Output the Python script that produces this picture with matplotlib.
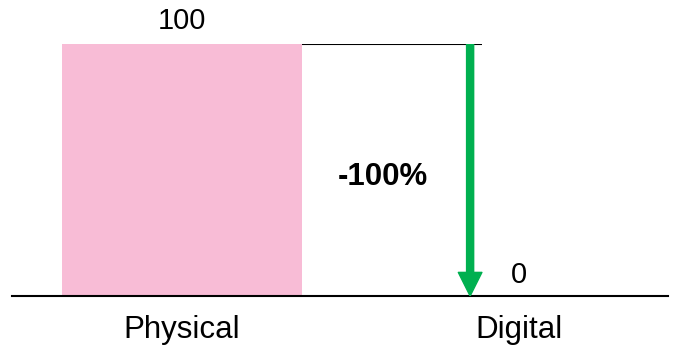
import matplotlib
matplotlib.use("Agg")
import matplotlib.pyplot as plt
from matplotlib.patches import FancyArrowPatch

plt.rcParams['font.family'] = ['Liberation Sans', 'DejaVu Sans']

categories = ["Physical", "Digital"]
values = [100, 0]
change_label = "-100%"

fig = plt.figure(figsize=(6.82, 3.47), dpi=100)
ax = fig.add_axes([12/682, 51/347, 656/682, 252/347])
x = list(range(len(categories)))
bw = 0.712
ax.bar(x[0], values[0], width=bw, color="#F8BCD6", zorder=1)
ax.set_xlim(-0.504, 1.442)
ax.set_ylim(0, 100)
for s in ["top", "right", "left"]:
    ax.spines[s].set_visible(False)
ax.spines["bottom"].set_linewidth(1.5)
ax.set_yticks([])
ax.set_xticks(x)
ax.set_xticklabels([])
ax.tick_params(axis='x', length=0)

# category labels
for xi, cat in zip(x, categories):
    ax.text(xi, -0.1667, cat, transform=ax.get_xaxis_transform(), ha="center",
            va="baseline", fontsize=22.5, clip_on=False)

# value labels
ax.text(x[0], values[0] + 6, f"{values[0]}", ha="center", va="baseline", fontsize=21, clip_on=False)
ax.text(x[1], values[1] + 5.2, f"{values[1]}", ha="center", va="baseline", fontsize=21)

# connector line
ax.plot([x[0] + bw/2, 0.89], [values[0], values[0]], color="black", lw=1.5, solid_capstyle="butt")

# arrow
ax_x = 0.855
arr = FancyArrowPatch((ax_x, values[0]), (ax_x, values[1]),
                      arrowstyle="simple,head_length=1,head_width=1,tail_width=0.3",
                      mutation_scale=17, color="#00B050", shrinkA=0, shrinkB=0, zorder=3)
ax.add_patch(arr)

ax.text(0.596, 44, change_label, ha="center", va="baseline", fontsize=22.5, fontweight="bold")

fig.savefig("out.png", dpi=100)
